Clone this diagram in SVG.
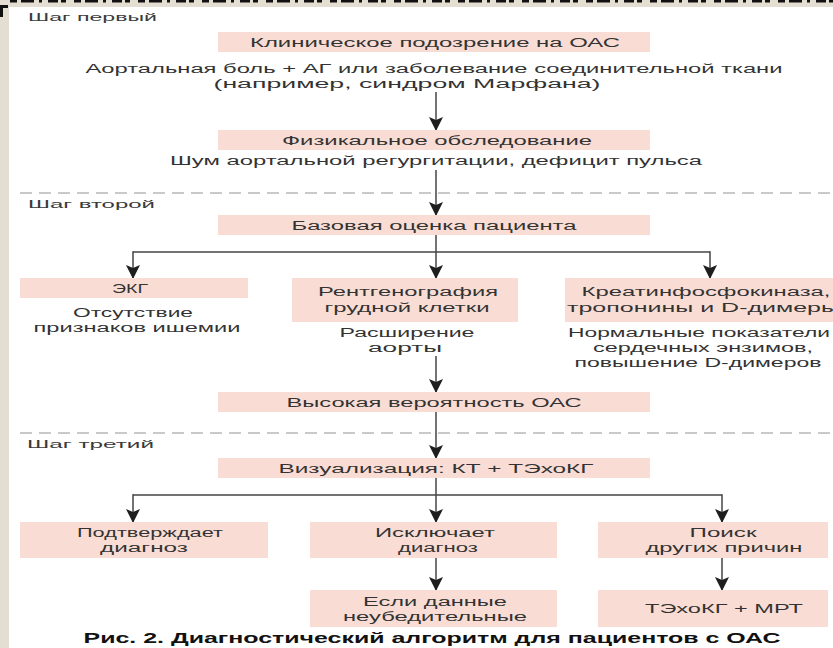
<svg xmlns="http://www.w3.org/2000/svg" width="833" height="648" viewBox="0 0 833 648">
  <defs>
    <marker id="ah" markerUnits="userSpaceOnUse" markerWidth="15" markerHeight="15" refX="13" refY="7" orient="auto">
      <path d="M0,0 L14,7 L0,14 L3,7 z" fill="#1e1e1e"/>
    </marker>
  </defs>
  <style>
    .bx { fill: #f9ddd5; }
    .t { font-family: "Liberation Sans", Arial, sans-serif; font-size: 12.5px; fill: #333333; text-anchor: middle; }
    .s { font-family: "Liberation Sans", Arial, sans-serif; font-size: 11.5px; fill: #3a3a3a; }
    .cap { font-family: "Liberation Sans", Arial, sans-serif; font-size: 14.5px; font-weight: bold; fill: #111; text-anchor: middle; }
    .ln { stroke: #444; stroke-width: 1.5; fill: none; }
    .ar { stroke: #444; stroke-width: 1.5; fill: none; marker-end: url(#ah); }
    .dash { stroke: #b8b8b8; stroke-width: 1.5; stroke-dasharray: 12 7; fill: none; }
  </style>

  <!-- frame -->
  <rect x="0" y="0" width="833" height="648" fill="#e4ddd2"/>
  <rect x="9" y="7" width="824" height="641" fill="#ffffff"/>
  <line x1="10" y1="1.2" x2="833" y2="1.2" stroke="#111" stroke-width="2.5" stroke-dasharray="7 4 13 5 3 6 10 3 5 8"/>
  <path d="M0,5 H8 V8 H3 V17 H0 Z" fill="#111"/>

  <!-- step separators -->
  <g id="separators">
    <line class="dash" x1="20" y1="193" x2="833" y2="193"/>
    <line class="dash" x1="20" y1="433" x2="833" y2="433"/>
    <text class="s" x="28" y="21" textLength="129" lengthAdjust="spacingAndGlyphs">Шаг первый</text>
    <text class="s" x="28" y="208" textLength="127" lengthAdjust="spacingAndGlyphs">Шаг второй</text>
    <text class="s" x="27" y="448" textLength="127" lengthAdjust="spacingAndGlyphs">Шаг третий</text>
  </g>

  <!-- connectors -->
  <g id="connectors">
    <line class="ar" x1="436" y1="92" x2="436" y2="130"/>
    <line class="ar" x1="436" y1="170" x2="436" y2="215"/>
    <line class="ln" x1="436" y1="235" x2="436" y2="252"/>
    <line class="ln" x1="133" y1="252" x2="710" y2="252"/>
    <line class="ar" x1="133" y1="251.25" x2="133" y2="278"/>
    <line class="ar" x1="436" y1="252" x2="436" y2="278"/>
    <line class="ar" x1="710" y1="251.25" x2="710" y2="278"/>
    <line class="ar" x1="436" y1="356" x2="436" y2="392"/>
    <line class="ar" x1="436" y1="412" x2="436" y2="458"/>
    <line class="ln" x1="436" y1="478" x2="436" y2="495"/>
    <line class="ln" x1="133" y1="495" x2="722" y2="495"/>
    <line class="ar" x1="133" y1="494.25" x2="133" y2="522"/>
    <line class="ar" x1="436" y1="495" x2="436" y2="522"/>
    <line class="ar" x1="722" y1="494.25" x2="722" y2="522"/>
    <line class="ar" x1="436" y1="558" x2="436" y2="590"/>
    <line class="ar" x1="722" y1="558" x2="722" y2="590"/>
  </g>

  <g id="n1">
    <rect class="bx" x="218" y="32" width="432" height="20"/>
    <text class="t" x="435" y="47" textLength="370" lengthAdjust="spacingAndGlyphs">Клиническое подозрение на ОАС</text>
    <text class="t" x="434" y="73" textLength="697" lengthAdjust="spacingAndGlyphs">Аортальная боль + АГ или заболевание соединительной ткани</text>
    <text class="t" x="407" y="88" textLength="387" lengthAdjust="spacingAndGlyphs">(например, синдром Марфана)</text>
  </g>

  <g id="n2">
    <rect class="bx" x="218" y="130" width="432" height="20"/>
    <text class="t" x="437" y="145" textLength="310" lengthAdjust="spacingAndGlyphs">Физикальное обследование</text>
    <text class="t" x="436" y="165" textLength="532" lengthAdjust="spacingAndGlyphs">Шум аортальной регургитации, дефицит пульса</text>
  </g>

  <g id="n3">
    <rect class="bx" x="218" y="215" width="432" height="20"/>
    <text class="t" x="434" y="230" textLength="285" lengthAdjust="spacingAndGlyphs">Базовая оценка пациента</text>
  </g>

  <g id="n4">
    <rect class="bx" x="20" y="278" width="228" height="20"/>
    <text class="t" x="130" y="293" textLength="36" lengthAdjust="spacingAndGlyphs">ЭКГ</text>
    <text class="t" x="133" y="317" textLength="120" lengthAdjust="spacingAndGlyphs">Отсутствие</text>
    <text class="t" x="137" y="332" textLength="207" lengthAdjust="spacingAndGlyphs">признаков ишемии</text>
  </g>

  <g id="n5">
    <rect class="bx" x="292" y="278" width="226" height="44"/>
    <text class="t" x="408" y="296" textLength="180" lengthAdjust="spacingAndGlyphs">Рентгенография</text>
    <text class="t" x="407" y="312" textLength="165" lengthAdjust="spacingAndGlyphs">грудной клетки</text>
    <text class="t" x="407" y="337" textLength="135" lengthAdjust="spacingAndGlyphs">Расширение</text>
    <text class="t" x="405" y="352" textLength="74" lengthAdjust="spacingAndGlyphs">аорты</text>
  </g>

  <g id="n6">
    <rect class="bx" x="565" y="278" width="268" height="44"/>
    <text class="t" x="706" y="296" textLength="249" lengthAdjust="spacingAndGlyphs">Креатинфосфокиназа,</text>
    <text class="t" x="703" y="312" textLength="272" lengthAdjust="spacingAndGlyphs">тропонины и D-димеры</text>
    <text class="t" x="699" y="337" textLength="262" lengthAdjust="spacingAndGlyphs">Нормальные показатели</text>
    <text class="t" x="703" y="352" textLength="220" lengthAdjust="spacingAndGlyphs">сердечных энзимов,</text>
    <text class="t" x="698" y="367" textLength="247" lengthAdjust="spacingAndGlyphs">повышение D-димеров</text>
  </g>

  <g id="n7">
    <rect class="bx" x="218" y="392" width="432" height="20"/>
    <text class="t" x="434" y="407" textLength="295" lengthAdjust="spacingAndGlyphs">Высокая вероятность ОАС</text>
  </g>

  <g id="n8">
    <rect class="bx" x="218" y="458" width="432" height="20"/>
    <text class="t" x="436" y="473" textLength="315" lengthAdjust="spacingAndGlyphs">Визуализация: КТ + ТЭхоКГ</text>
  </g>

  <g id="n9">
    <rect class="bx" x="20" y="522" width="248" height="36"/>
    <text class="t" x="150" y="537" textLength="146" lengthAdjust="spacingAndGlyphs">Подтверждает</text>
    <text class="t" x="144" y="552" textLength="88" lengthAdjust="spacingAndGlyphs">диагноз</text>
  </g>

  <g id="n10">
    <rect class="bx" x="310" y="522" width="247" height="36"/>
    <text class="t" x="435" y="537" textLength="120" lengthAdjust="spacingAndGlyphs">Исключает</text>
    <text class="t" x="438" y="552" textLength="80" lengthAdjust="spacingAndGlyphs">диагноз</text>
  </g>

  <g id="n11">
    <rect class="bx" x="598" y="522" width="230" height="36"/>
    <text class="t" x="723" y="537" textLength="67" lengthAdjust="spacingAndGlyphs">Поиск</text>
    <text class="t" x="724" y="552" textLength="157" lengthAdjust="spacingAndGlyphs">других причин</text>
  </g>

  <g id="n12">
    <rect class="bx" x="310" y="590" width="247" height="37"/>
    <text class="t" x="435" y="606" textLength="144" lengthAdjust="spacingAndGlyphs">Если данные</text>
    <text class="t" x="435" y="621" textLength="184" lengthAdjust="spacingAndGlyphs">неубедительные</text>
  </g>

  <g id="n13">
    <rect class="bx" x="598" y="590" width="230" height="37"/>
    <text class="t" x="724" y="613" textLength="158" lengthAdjust="spacingAndGlyphs">ТЭхоКГ + МРТ</text>
  </g>

  <g id="caption">
    <text class="cap" x="432" y="643" textLength="697" lengthAdjust="spacingAndGlyphs">Рис. 2. Диагностический алгоритм для пациентов с ОАС</text>
  </g>
</svg>
